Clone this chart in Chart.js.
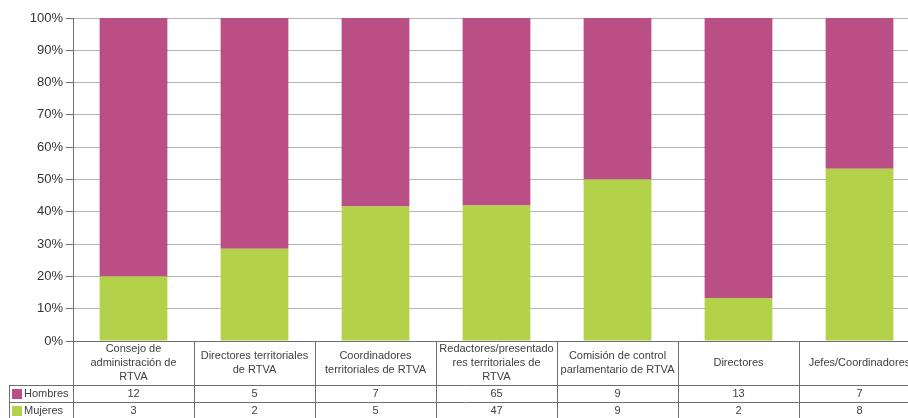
<!DOCTYPE html>
<html>
<head>
<meta charset="utf-8">
<script src="https://cdn.jsdelivr.net/npm/chart.js@4/dist/chart.umd.min.js"></script>
<style>
  html, body { margin: 0; padding: 0; background: #fff; overflow: hidden; }
  canvas { display: block; }
</style>
</head>
<body>
<canvas id="grafico" width="922" height="418"></canvas>
<script>
// ---------- DATOS ----------
const categorias = [
    ["Consejo de", "administración de", "RTVA"],
    ["Directores territoriales", "de RTVA"],
    ["Coordinadores", "territoriales de RTVA"],
    ["Redactores/presentado", "res territoriales de", "RTVA"],
    ["Comisión de control", "parlamentario de RTVA"],
    ["Directores"],
    ["Jefes/Coordinadores"]
];
const hombres = [12, 5, 7, 65, 9, 13, 7];
const mujeres = [3, 2, 5, 47, 9, 2, 8];
const series = ["Hombres", "Mujeres"];
const colores = { Hombres: "#b94f84", Mujeres: "#b3d149" };

// porcentajes para el 100% apilado
const totales = hombres.map((h, i) => h + mujeres[i]);
const pctHombres = hombres.map((h, i) => h / totales[i] * 100);
const pctMujeres = mujeres.map((m, i) => m / totales[i] * 100);

const FUENTE = "'Liberation Sans', Arial, sans-serif";
const LINEA_TABLA = "#6e6e6e";
const TEXTO = "#404040";

// ---------- TABLA DE DATOS (debajo del eje) ----------
const tablaPlugin = {
    id: "tabla",
    afterDraw(chart) {
        const { ctx, chartArea, scales: { x } } = chart;
        const top = chartArea.bottom;
        const filaH = top + 44;      // fila Hombres
        const filaM = filaH + 17;    // fila Mujeres
        const fin = filaM + 17;
        const legIzq = 9;
        const n = categorias.length;
        const paso = x.getPixelForValue(1) - x.getPixelForValue(0);

        ctx.save();
        ctx.strokeStyle = LINEA_TABLA;
        ctx.lineWidth = 1;

        // líneas horizontales
        ctx.beginPath();
        ctx.moveTo(chartArea.left, top + 0.5);
        ctx.lineTo(chartArea.right, top + 0.5);
        [filaH, filaM, fin].forEach(yy => {
            ctx.moveTo(legIzq, yy + 0.5);
            ctx.lineTo(chartArea.right, yy + 0.5);
        });
        // líneas verticales
        for (let i = 0; i <= n; i++) {
            const xx = Math.round(x.getPixelForValue(i) - paso / 2) + 0.5;
            ctx.moveTo(xx, top);
            ctx.lineTo(xx, fin);
        }
        ctx.moveTo(legIzq + 0.5, filaH);
        ctx.lineTo(legIzq + 0.5, fin);
        ctx.stroke();

        // texto de categorías
        ctx.fillStyle = TEXTO;
        ctx.font = "11px " + FUENTE;
        ctx.textAlign = "center";
        ctx.textBaseline = "middle";
        categorias.forEach((lineas, i) => {
            const cx = x.getPixelForValue(i);
            const cy = top + 22;
            const alto = 14;
            lineas.forEach((t, j) => {
                ctx.fillText(t, cx, cy + (j - (lineas.length - 1) / 2) * alto);
            });
            ctx.fillText(String(hombres[i]), cx, filaH + 9);
            ctx.fillText(String(mujeres[i]), cx, filaM + 9);
        });

        // leyenda en la tabla
        ctx.textAlign = "left";
        [[series[0], filaH], [series[1], filaM]].forEach(([nombre, yy]) => {
            ctx.fillStyle = colores[nombre];
            ctx.fillRect(legIzq + 3, yy + 4, 10, 10);
            ctx.fillStyle = TEXTO;
            ctx.fillText(nombre, legIzq + 15, yy + 9);
        });
        ctx.restore();
    }
};

const ctx = document.getElementById("grafico").getContext("2d");
new Chart(ctx, {
    type: "bar",
    data: {
        labels: categorias,
        datasets: [
            { label: "Mujeres", data: pctMujeres, backgroundColor: colores.Mujeres },
            { label: "Hombres", data: pctHombres, backgroundColor: colores.Hombres }
        ]
    },
    options: {
        responsive: false,
        animation: false,
        categoryPercentage: 1,
        barPercentage: 0.56,
        layout: { padding: { left: 0, top: 18, right: 2, bottom: 77 } },
        plugins: {
            legend: { display: false },
            tooltip: { enabled: false }
        },
        scales: {
            x: {
                display: false,
                stacked: true
            },
            y: {
                stacked: true,
                min: 0,
                max: 100,
                afterFit(scale) { scale.width = 73; },
                ticks: {
                    stepSize: 10,
                    color: "#333",
                    font: { family: FUENTE, size: 13 },
                    padding: 3,
                    callback: v => v + "%"
                },
                grid: { color: "#b5b5b5", tickLength: 7, tickColor: "#6e6e6e" },
                border: { color: "#6e6e6e", width: 1 }
            }
        }
    },
    plugins: [tablaPlugin]
});
</script>
</body>
</html>
